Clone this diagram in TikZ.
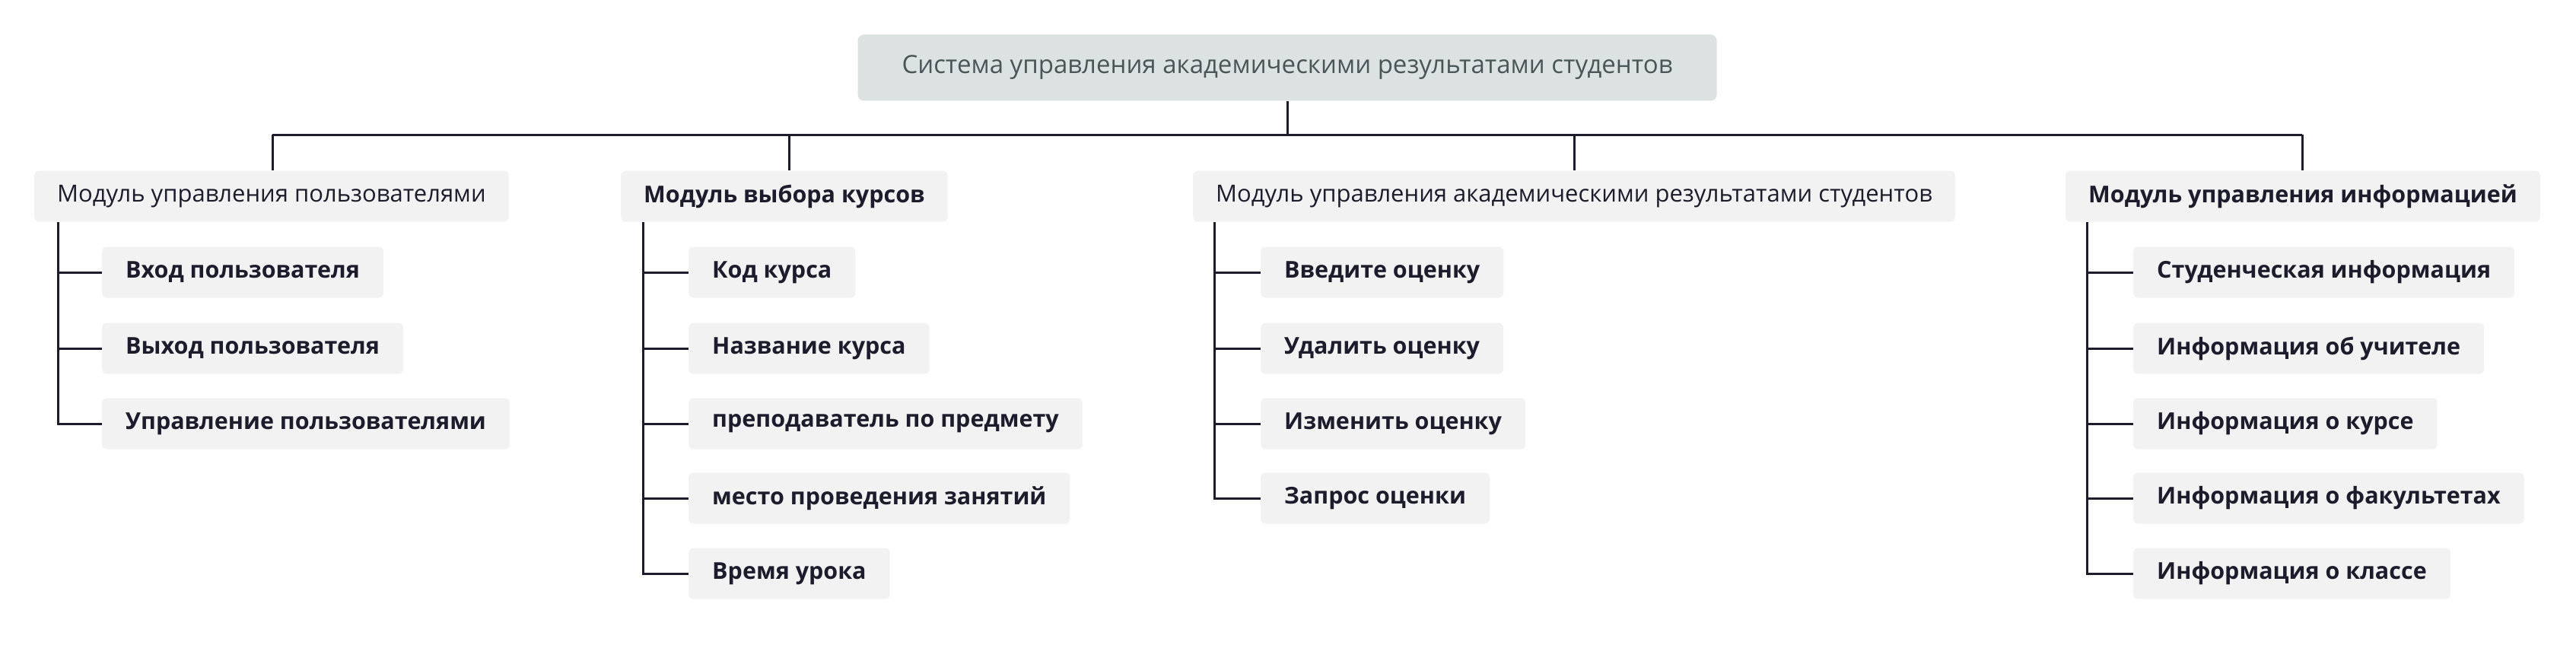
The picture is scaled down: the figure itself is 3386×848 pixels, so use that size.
\documentclass[tikz,border=0pt]{standalone}
\usepackage{fontspec}
\setmainfont{Open Sans}[BoldFont={* Bold}]
\begin{document}
\begin{tikzpicture}[x=1pt,y=-1pt,
  rootbox/.style={fill=rootc,rounded corners=8pt,minimum height=87pt,inner xsep=58pt,text=roottext,font=\fontsize{33}{36}\selectfont},
  modbox/.style={fill=boxc,rounded corners=6pt,minimum height=67pt,inner xsep=30pt,text=dark,font=\fontsize{31}{34}\selectfont},
  leaf/.style={fill=boxc,rounded corners=6pt,minimum height=67pt,inner xsep=31pt,text=dark,anchor=west,font=\fontsize{30.5}{34}\selectfont\bfseries},
  conn/.style={draw=dark,line width=3pt}]
\definecolor{rootc}{HTML}{DCE2E2}
\definecolor{roottext}{HTML}{4A5558}
\definecolor{boxc}{HTML}{F2F2F2}
\definecolor{dark}{HTML}{1C1C2C}
\useasboundingbox (0,0) rectangle (3386,848);
\node[rootbox] (root) at (1692,89) {Система управления академическими результатами студентов};
\node[modbox,anchor=west] (m1) at (45,258) {Модуль управления пользователями};
\node[modbox,anchor=west,font=\fontsize{30.5}{34}\selectfont\bfseries] (m2) at (816,258) {Модуль выбора курсов};
\node[modbox,anchor=west] (m3) at (1568,258) {Модуль управления академическими результатами студентов};
\node[modbox,anchor=west,font=\fontsize{30.5}{34}\selectfont\bfseries] (m4) at (2715,258) {Модуль управления информацией};
\coordinate (t1) at (358,177); \coordinate (t2) at (1037,177);
\coordinate (t3) at (2069,177); \coordinate (t4) at (3026,177);
\draw[conn] (root.south) -- (root.south |- t1);
\draw[conn] (t1) -- (t4);
\draw[conn] (t1) -- (t1 |- m1.north);
\draw[conn] (t2) -- (t2 |- m2.north);
\draw[conn] (t3) -- (t3 |- m3.north);
\draw[conn] (t4) -- (t4 |- m4.north);
% module 1
\node[leaf] (a1) at (134,358) {Вход пользователя};
\node[leaf] (a2) at (134,458) {Выход пользователя};
\node[leaf] (a3) at (134,557) {Управление пользователями};
\coordinate (v1) at (76,292);
\draw[conn] (v1) -- (v1 |- a3.west) -- (a3.west);
\draw[conn] (v1 |- a1.west) -- (a1.west);
\draw[conn] (v1 |- a2.west) -- (a2.west);
% module 2
\node[leaf] (b1) at (905,358) {Код курса};
\node[leaf] (b2) at (905,458) {Название курса};
\node[leaf] (b3) at (905,557) {преподаватель по предмету};
\node[leaf] (b4) at (905,655) {место проведения занятий};
\node[leaf] (b5) at (905,754) {Время урока};
\coordinate (v2) at (845,292);
\draw[conn] (v2) -- (v2 |- b5.west) -- (b5.west);
\foreach \n in {b1,b2,b3,b4} \draw[conn] (v2 |- \n.west) -- (\n.west);
% module 3
\node[leaf] (c1) at (1657,358) {Введите оценку};
\node[leaf] (c2) at (1657,458) {Удалить оценку};
\node[leaf] (c3) at (1657,557) {Изменить оценку};
\node[leaf] (c4) at (1657,655) {Запрос оценки};
\coordinate (v3) at (1596,292);
\draw[conn] (v3) -- (v3 |- c4.west) -- (c4.west);
\foreach \n in {c1,c2,c3} \draw[conn] (v3 |- \n.west) -- (\n.west);
% module 4
\node[leaf] (d1) at (2804,358) {Студенческая информация};
\node[leaf] (d2) at (2804,458) {Информация об учителе};
\node[leaf] (d3) at (2804,557) {Информация о курсе};
\node[leaf] (d4) at (2804,655) {Информация о факультетах};
\node[leaf] (d5) at (2804,754) {Информация о классе};
\coordinate (v4) at (2743,292);
\draw[conn] (v4) -- (v4 |- d5.west) -- (d5.west);
\foreach \n in {d1,d2,d3,d4} \draw[conn] (v4 |- \n.west) -- (\n.west);
\end{tikzpicture}
\end{document}
